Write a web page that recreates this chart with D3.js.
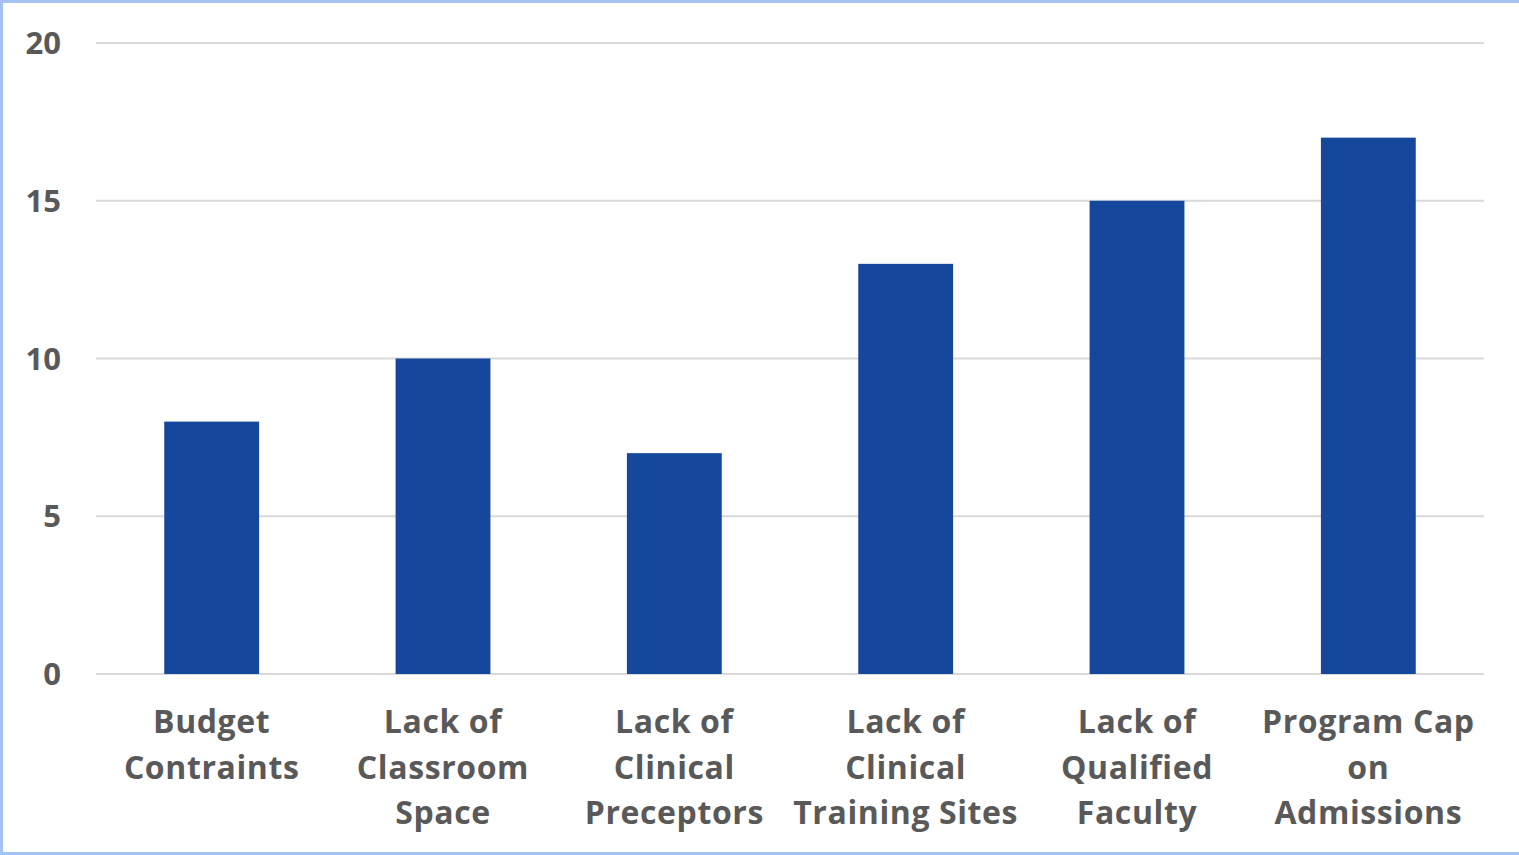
<!DOCTYPE html>
<html lang="en">
<head>
    <meta charset="UTF-8">
    <title>Enrollment Barriers</title>
    <script src="https://d3js.org/d3.v7.min.js"></script>
    <style>
        body { margin: 0; background: #fff; }
    </style>
</head>
<body>
<div id="chart"></div>
<script>

// categories (split into the lines they wrap onto) and counts
const categories = [
    ['Budget', 'Contraints'],
    ['Lack of', 'Classroom', 'Space'],
    ['Lack of', 'Clinical', 'Preceptors'],
    ['Lack of', 'Clinical', 'Training Sites'],
    ['Lack of', 'Qualified', 'Faculty'],
    ['Program Cap', 'on', 'Admissions']
];
const values = [8, 10, 7, 13, 15, 17];
const yTicks = [0, 5, 10, 15, 20];

const width = 1519, height = 855;
const margin = {top: 43, right: 35, bottom: 181, left: 96};

const svg = d3.select('#chart').append('svg')
    .attr('width', width)
    .attr('height', height)
    .style('display', 'block');

// light blue frame round the picture
const frame = svg.append('g').attr('fill', '#a4c2f4');
frame.append('rect').attr('x', 0).attr('y', 0).attr('width', width).attr('height', 3);
frame.append('rect').attr('x', 0).attr('y', 0).attr('width', 3).attr('height', height);
frame.append('rect').attr('x', 0).attr('y', height - 3).attr('width', width).attr('height', 3);

const x = d3.scaleBand()
    .domain(d3.range(categories.length))
    .range([margin.left, width - margin.right])
    .paddingInner(0.59)
    .paddingOuter(0.295);

const y = d3.scaleLinear()
    .domain([0, 20])
    .range([height - margin.bottom, margin.top]);

// gridlines
svg.append('g')
    .selectAll('line')
    .data(yTicks)
    .join('line')
    .attr('x1', margin.left)
    .attr('x2', width - margin.right)
    .attr('y1', d => y(d))
    .attr('y2', d => y(d))
    .attr('stroke', '#d9d9d9')
    .attr('stroke-width', 2);

// y tick labels
svg.append('g')
    .selectAll('text')
    .data(yTicks)
    .join('text')
    .attr('x', 61)
    .attr('y', d => y(d))
    .attr('dy', '0.36em')
    .attr('text-anchor', 'end')
    .attr('font-family', '"Open Sans", sans-serif')
    .attr('font-weight', 'bold')
    .attr('font-size', 31)
    .attr('fill', '#595959')
    .text(d => d);

// bars
svg.append('g')
    .selectAll('rect')
    .data(values)
    .join('rect')
    .attr('x', (d, i) => x(i))
    .attr('y', d => y(d))
    .attr('width', x.bandwidth())
    .attr('height', d => y(0) - y(d))
    .attr('fill', '#15489c');

// category labels, one tspan per line
const labels = svg.append('g')
    .selectAll('text')
    .data(categories)
    .join('text')
    .attr('text-anchor', 'middle')
    .attr('font-family', '"Open Sans", sans-serif')
    .attr('font-weight', 'bold')
    .attr('font-size', 32)
    .attr('letter-spacing', 0.6)
    .attr('fill', '#595959');

labels.selectAll('tspan')
    .data((d, i) => d.map(line => ({line, i})))
    .join('tspan')
    .attr('x', d => x(d.i) + x.bandwidth() / 2)
    .attr('y', (d, j) => 733 + j * 45.5)
    .text(d => d.line);

</script>
</body>
</html>
